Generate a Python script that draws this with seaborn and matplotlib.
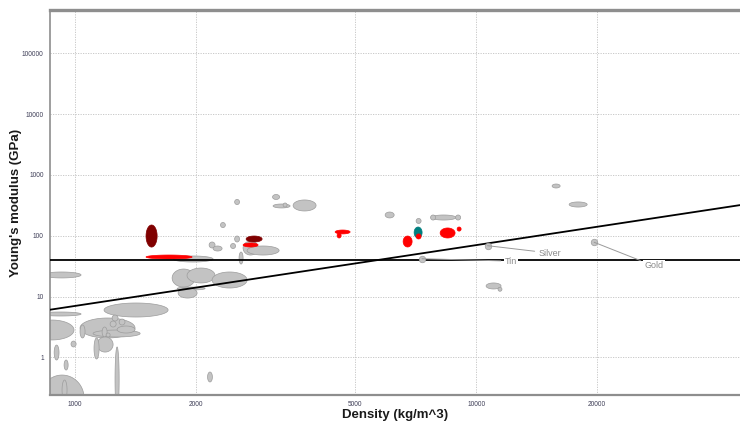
import numpy as np
import matplotlib
matplotlib.use("Agg")
import matplotlib.pyplot as plt
import seaborn as sns

# ---------------- data ----------------
# Grey material bubbles: density range (kg/m^3) and Young's modulus range (GPa)
grey_density = [
    (828, 1035), (1181, 1706), (818, 1035), (772, 994), (1029, 1411),
    (1237, 1280), (1223, 1266), (1288, 1332), (1109, 1453), (1273, 1411),
    (1029, 1059), (1168, 1202), (1195, 1223), (1135, 1244), (1115, 1148),
    (977, 1006), (887, 912), (939, 961), (1258, 1288), (818, 1053),
    (928, 955), (2140, 2200), (1756, 2209), (1746, 1992), (1902, 2234),
    (2196, 2685), (1797, 2110), (1807, 2015), (2305, 2370), (2500, 2571),
    (3108, 3236), (3117, 3437), (3302, 3378), (3497, 3990), (2159, 2234),
    (2209, 2326), (2442, 2513), (2500, 2571), (2624, 2860), (2685, 3227),
    (2564, 2624), (5932, 6247), (7086, 7292), (7723, 8915), (7700, 7925),
    (8890, 9150), (15470, 16200), (17060, 18920), (10590, 11540), (11340, 11600),
]
grey_modulus = [
    (20.2, 25.3), (4.60, 7.82), (4.78, 5.56), (1.93, 4.10), (2.08, 4.43),
    (3.95, 4.96), (3.15, 3.95), (3.40, 4.26), (2.16, 2.81), (2.51, 3.27),
    (2.08, 3.40), (2.16, 3.15), (2.16, 2.51), (1.22, 2.16), (0.938, 2.08),
    (1.48, 1.85), (0.903, 1.59), (0.618, 0.903), (0.126, 1.48), (0.09, 0.511),
    (0.199, 0.423), (0.393, 0.573), (36.9, 46.4), (14.3, 28.3), (16.7, 29.4),
    (13.8, 25.3), (12.8, 14.3), (9.44, 13.8), (136, 165), (325, 395),
    (394, 476), (286, 332), (296, 345), (255, 387), (62.8, 78.8),
    (56.0, 67.7), (61.5, 74.5), (78.8, 98.8), (48.1, 81.8), (48.1, 67.7),
    (34.2, 53.9), (196, 245), (159, 192), (181, 219), (181, 219),
    (181, 219), (609, 708), (296, 359), (13.3, 16.7), (12.2, 14.2),
]

red_density = [(1503, 1958), (2624, 2860), (4451, 4851), (4502, 4607),
               (6577, 6925), (7086, 7292), (8134, 8863), (8967, 9176)]
red_modulus = [(41.4, 48.1), (65.2, 75.9), (107, 124), (91.7, 111),
               (65.2, 98.8), (88.3, 107), (91.7, 134), (119, 139)]

darkred_density = [(1503, 1602), (2670, 2927)]
darkred_modulus = [(65, 150), (78.8, 98.8)]

teal_density = [(7005, 7334)]
teal_modulus = [(91.7, 139)]

# Labelled metals
metal_names = ["Silver", "Tin", "Gold"]
metal_density = [10680, 7334, 19700]
metal_modulus = [68.5, 41.8, 77.9]

# Guide lines
modulus_limit = 40          # GPa, horizontal line
specific_modulus = 0.007    # GPa per kg/m^3, diagonal line E = c * rho

x_ticks = [1000, 2000, 5000, 10000, 20000]
y_ticks = [1, 10, 100, 1000, 10000, 100000]
x_limits = (866, 45500)
y_limits = (0.24, 5.15e5)

# ---------------- style ----------------
sns.set_style("white")
plt.rcParams["font.family"] = ["Liberation Sans", "DejaVu Sans"]

fig = plt.figure(figsize=(7.4, 4.25), dpi=100)
ax = fig.add_axes([50 / 740, 30 / 425, 690 / 740, 385 / 425])
ax.set_xscale("log")
ax.set_yscale("log")
ax.set_xlim(*x_limits)
ax.set_ylim(*y_limits)

t = np.linspace(0, 2 * np.pi, 120)


def draw_bubbles(dens, mod, face, edge, z):
    for (d0, d1), (e0, e1) in zip(dens, mod):
        cx, rx = (np.log10(d0) + np.log10(d1)) / 2, (np.log10(d1) - np.log10(d0)) / 2
        cy, ry = (np.log10(e0) + np.log10(e1)) / 2, (np.log10(e1) - np.log10(e0)) / 2
        ax.fill(10 ** (cx + rx * np.cos(t)), 10 ** (cy + ry * np.sin(t)),
                facecolor=face, edgecolor=edge, linewidth=0.5, zorder=z)


draw_bubbles(grey_density, grey_modulus, "#c3c3c3", "#9c9c9c", 2)
draw_bubbles(darkred_density, darkred_modulus, "#800000", "#800000", 3)
draw_bubbles(teal_density, teal_modulus, "#007f7f", "#007f7f", 3)
draw_bubbles(red_density, red_modulus, "#ff0000", "#ff0000", 4)

# guide lines
ax.axhline(modulus_limit, color="black", lw=1.3, zorder=5)
rho_line = np.array(x_limits, dtype=float)
sns.lineplot(x=rho_line, y=specific_modulus * rho_line, color="black",
             lw=1.3, ax=ax, zorder=5)

# labelled metal points
sns.scatterplot(x=metal_density, y=metal_modulus, ax=ax, s=22,
                color="#c3c3c3", edgecolor="#9c9c9c", linewidth=0.5, zorder=6)
offsets = {"Silver": (45, -5.3), "Tin": (64, -1.7), "Gold": (43, -17)}
for name, d, e in zip(metal_names, metal_density, metal_modulus):
    ax.annotate(name, xy=(d, e), xytext=offsets[name], textcoords="offset points",
                ha="center", va="center", fontsize=6.5, color="#8a8a8a",
                bbox=dict(boxstyle="square,pad=0.15", fc="white", ec="none"),
                arrowprops=dict(arrowstyle="-", color="#9a9a9a", lw=0.7,
                                shrinkA=2, shrinkB=0),
                zorder=7)

# axes styling
ax.set_xticks(x_ticks)
ax.set_xticklabels([str(v) for v in x_ticks])
ax.set_yticks(y_ticks)
ax.set_yticklabels([str(v) for v in y_ticks])
ax.tick_params(axis="both", which="major", labelsize=4.7, labelcolor="#3c3c55",
               length=3, width=0.6, color="#666666", pad=1.5, direction="out")
ax.tick_params(axis="both", which="minor", length=1.8, width=0.5,
               color="#777777", direction="out")
ax.grid(True, which="major", color="#c2c2c2", linestyle=(0, (1.5, 1.5)), lw=0.6)
ax.set_axisbelow(True)

for side in ["top", "left", "bottom"]:
    ax.spines[side].set_color("#8e8e8e")
ax.spines["top"].set_linewidth(2.4)
ax.spines["left"].set_linewidth(1.2)
ax.spines["bottom"].set_linewidth(1.6)
ax.spines["right"].set_visible(False)

ax.set_xlabel("Density (kg/m^3)", fontsize=9.5, fontweight="bold", color="#1a1a1a")
ax.set_ylabel("Young's modulus (GPa)", fontsize=9.5, fontweight="bold", color="#1a1a1a")
ax.xaxis.set_label_coords(0.5, -0.037)
ax.yaxis.set_label_coords(-0.04, 0.5)

fig.savefig("out.png", dpi=100)
